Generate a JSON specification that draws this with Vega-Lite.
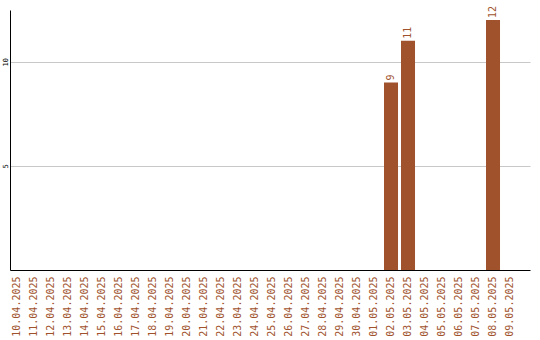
{
  "$schema": "https://vega.github.io/schema/vega-lite/v6.json",
  "width": 520,
  "height": 260,
  "padding": {"left": 10, "top": 10, "right": 10, "bottom": 70},
  "autosize": {"type": "none"},
  "background": "#ffffff",
  "config": {"view": {"stroke": null}},
  "data": {
    "values": [
      {"date": "10.04.2025", "value": 0},
      {"date": "11.04.2025", "value": 0},
      {"date": "12.04.2025", "value": 0},
      {"date": "13.04.2025", "value": 0},
      {"date": "14.04.2025", "value": 0},
      {"date": "15.04.2025", "value": 0},
      {"date": "16.04.2025", "value": 0},
      {"date": "17.04.2025", "value": 0},
      {"date": "18.04.2025", "value": 0},
      {"date": "19.04.2025", "value": 0},
      {"date": "20.04.2025", "value": 0},
      {"date": "21.04.2025", "value": 0},
      {"date": "22.04.2025", "value": 0},
      {"date": "23.04.2025", "value": 0},
      {"date": "24.04.2025", "value": 0},
      {"date": "25.04.2025", "value": 0},
      {"date": "26.04.2025", "value": 0},
      {"date": "27.04.2025", "value": 0},
      {"date": "28.04.2025", "value": 0},
      {"date": "29.04.2025", "value": 0},
      {"date": "30.04.2025", "value": 0},
      {"date": "01.05.2025", "value": 0},
      {"date": "02.05.2025", "value": 9},
      {"date": "03.05.2025", "value": 11},
      {"date": "04.05.2025", "value": 0},
      {"date": "05.05.2025", "value": 0},
      {"date": "06.05.2025", "value": 0},
      {"date": "07.05.2025", "value": 0},
      {"date": "08.05.2025", "value": 12},
      {"date": "09.05.2025", "value": 0}
    ]
  },
  "encoding": {
    "x": {
      "field": "date",
      "type": "nominal",
      "sort": null,
      "scale": {"paddingInner": 0.176, "paddingOuter": 0.382, "align": 0},
      "axis": {
        "title": null,
        "labelAngle": -90,
        "labelAlign": "right",
        "labelBaseline": "middle",
        "labelFont": "DejaVu Sans Mono",
        "labelFontSize": 10,
        "labelColor": "#a0522d",
        "labelPadding": 6,
        "ticks": false,
        "domainColor": "#000000",
        "domainWidth": 1,
        "grid": false
      }
    },
    "y": {
      "field": "value",
      "type": "quantitative",
      "scale": {"domain": [0, 12.48], "nice": false},
      "axis": {
        "title": null,
        "values": [5, 10],
        "labelAngle": -90,
        "labelAlign": "center",
        "labelBaseline": "bottom",
        "labelFont": "DejaVu Sans Mono",
        "labelFontSize": 7,
        "labelColor": "#000000",
        "labelPadding": 2,
        "ticks": false,
        "domainColor": "#000000",
        "domainWidth": 1,
        "grid": true,
        "gridColor": "#c8c8c8",
        "gridWidth": 1
      }
    }
  },
  "layer": [
    {"mark": {"type": "bar", "color": "#a0522d"}},
    {
      "transform": [{"filter": "datum.value > 0"}],
      "mark": {
        "type": "text",
        "angle": -90,
        "align": "left",
        "baseline": "middle",
        "dx": 2,
        "font": "DejaVu Sans Mono",
        "fontSize": 10,
        "color": "#a0522d"
      },
      "encoding": {"text": {"field": "value", "type": "quantitative"}}
    }
  ]
}
